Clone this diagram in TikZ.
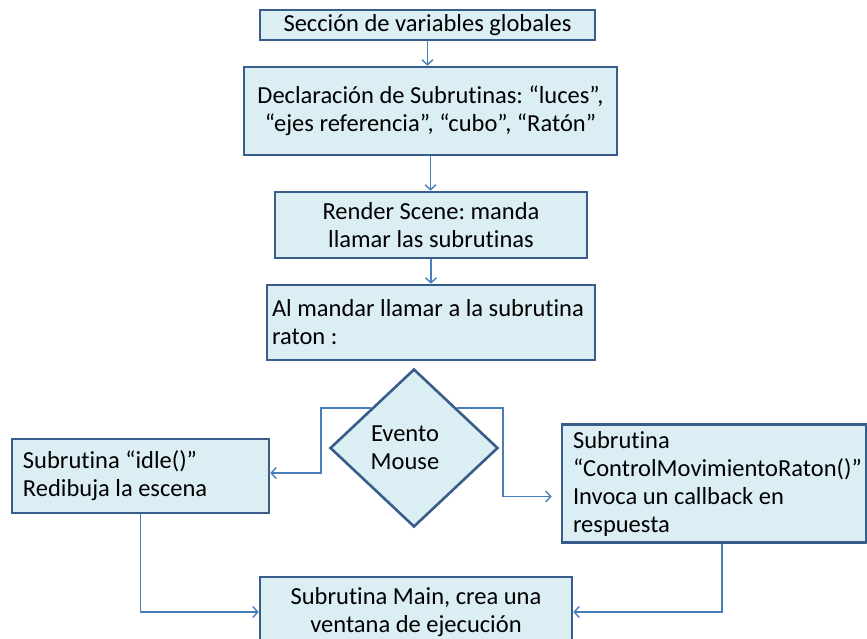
\documentclass[tikz,border=0pt]{standalone}
\usepackage{fontspec}
\setmainfont{Carlito}[Ligatures={NoCommon}]
\usetikzlibrary{shapes.geometric,arrows.meta,calc}
\definecolor{boxfill}{HTML}{DBEEF4}
\definecolor{boxline}{HTML}{385D8A}
\definecolor{conncol}{HTML}{4A7EBB}
\newcommand{\lefttext}[2]{\parbox[c]{#1}{\raggedright #2}}
\begin{document}
\frenchspacing
\begin{tikzpicture}[x=1pt,y=-1pt,
  box/.style={draw=boxline, fill=boxfill, line width=2.6pt, inner sep=0pt,
    align=center, font=\fontsize{24.5}{28}\selectfont\frenchspacing},
  lbox/.style={box, inner xsep=#1, inner ysep=0pt},
  conn/.style={draw=conncol, line width=1.7pt,
    -{Straight Barb[length=5pt,width=11pt,line width=1.4pt]}}]
\useasboundingbox (0,0) rectangle (867,638);
\begin{scope}
\clip (0,0) rectangle (867,638);
\node[box, minimum width=335, minimum height=30] (b1) at (427.5,25) {Sección de variables globales};
\node[box, minimum width=373, minimum height=88] (b2) at (430.5,111) {Declaración de Subrutinas: “luces”,\\ “ejes referencia”, “cubo”, “Ratón”};
\node[box, minimum width=312, minimum height=66] (b3) at (431,225) {Render Scene: manda\\llamar las subrutinas};
\node[lbox=5pt, minimum width=328, minimum height=75] (b4) at (431,322.5) {\lefttext{318pt}{Al mandar llamar a la subrutina\\raton :}};
\node[box, shape=diamond, minimum width=168, minimum height=158] (d) at (414,448) {\hspace*{-18pt}Evento\\\hspace*{-18pt}Mouse};
\node[lbox=11pt, minimum width=257, minimum height=74] (lb) at (140.5,476) {\lefttext{235pt}{Subrutina “idle()”\\Redibuja la escena}};
\node[lbox=11pt, minimum width=304, minimum height=118] (rb) at (714,483.5) {\lefttext{282pt}{Subrutina\\“ControlMovimientoRaton()”\\Invoca un callback en\\respuesta}};
\node[box, minimum width=312, minimum height=70] (bm) at (416,612) {Subrutina Main, crea una\\ventana de ejecución};
\end{scope}
\draw[conn] (b1.south) -- (b1.south |- b2.north);
\draw[conn] (b2.south) -- (b2.south |- b3.north);
\draw[conn] (b3.south) -- (b3.south |- b4.north);
\draw[conn] (d.north west) -| ($(lb.east)+(51,-3)$) -- ($(lb.east)+(0,-3)$);
\draw[conn, shorten >=9pt] (d.north east) -| ($(rb.west)+(-58,13)$) -- ($(rb.west)+(0,13)$);
\draw[conn] (lb.south) |- (bm.west);
\draw[conn] ($(rb.south)+(8,0)$) |- (bm.east);
\end{tikzpicture}
\end{document}
